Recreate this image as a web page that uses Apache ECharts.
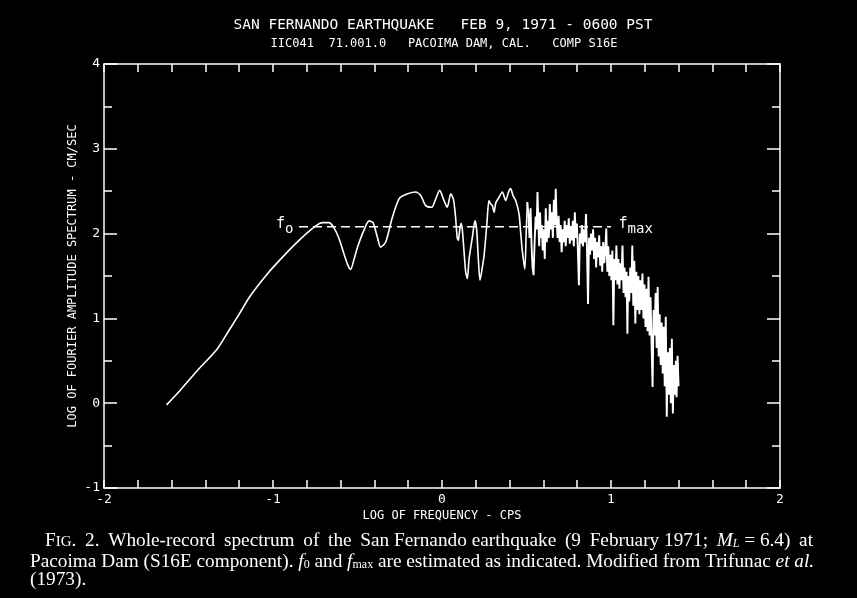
<!DOCTYPE html>
<html>
<head>
<meta charset="utf-8">
<script src="https://cdn.jsdelivr.net/npm/echarts@6/dist/echarts.min.js"></script>
<style>html,body{margin:0;padding:0;background:#000;}#c{width:857px;height:598px;}</style>
</head>
<body>
<div id="c"></div>
<script>
// ---- Data (log10 frequency in cps, log10 Fourier amplitude in cm/sec) ----
var lowFreqLog = [-1.63,-1.55,-1.45,-1.33,-1.26,-1.20,-1.14,-1.04,-0.945,-0.846,-0.747,-0.708,-0.669,-0.64,-0.609,-0.58,-0.555,-0.54,-0.52,-0.50,-0.46,-0.432,-0.408,-0.383,-0.363,-0.333,-0.294,-0.254,-0.215,-0.156,-0.126,-0.096,-0.061,-0.037,-0.014,0.012,0.031,0.052,0.068,0.080,0.090,0.097,0.105,0.113,0.120,0.130,0.140,0.150,0.160,0.180,0.195,0.205,0.215,0.225,0.240,0.250,0.265,0.278,0.288,0.298,0.308,0.318,0.335,0.357,0.377,0.395,0.406,0.420,0.436,0.456,0.466,0.475,0.490,0.498,0.505];
var lowAmpLog = [-0.02,0.15,0.38,0.64,0.86,1.05,1.25,1.51,1.72,1.92,2.09,2.13,2.13,2.07,1.94,1.76,1.62,1.58,1.70,1.84,2.05,2.15,2.13,1.96,1.84,1.90,2.19,2.41,2.46,2.49,2.45,2.33,2.31,2.41,2.51,2.39,2.31,2.47,2.40,2.20,1.95,1.92,2.05,2.12,2.05,1.80,1.55,1.47,1.70,1.96,2.15,2.05,1.70,1.45,1.62,1.76,2.10,2.39,2.35,2.33,2.25,2.36,2.42,2.49,2.39,2.50,2.53,2.45,2.39,2.23,2.00,1.80,1.58,2.00,2.37];

var highFreqLog = [0.505,0.512,0.518,0.524,0.530,0.536,0.542,0.548,0.554,0.560,0.565,0.570,0.575,0.580,0.585,0.590,0.596,0.602,0.608,0.614,0.620,0.626,0.632,0.638,0.644,0.650,0.656,0.662,0.668,0.673,0.678,0.684,0.690,0.696,0.702,0.708,0.714,0.720,0.726,0.732,0.738,0.744,0.750,0.756,0.762,0.768,0.774,0.780,0.786,0.792,0.798,0.804,0.810,0.816,0.822,0.828,0.834,0.840,0.846,0.852,0.858,0.864,0.870,0.876,0.882,0.888,0.894,0.900,0.906,0.912,0.918,0.924,0.930,0.936,0.942,0.948,0.954,0.960,0.966,0.972,0.978,0.984,0.990,0.996,1.002,1.008,1.014,1.020,1.026,1.032,1.038,1.044,1.050,1.056,1.062,1.068,1.074,1.080,1.086,1.092,1.097,1.102,1.108,1.114,1.120,1.126,1.132,1.138,1.144,1.150,1.156,1.162,1.168,1.174,1.180,1.186,1.192,1.198,1.204,1.210,1.216,1.222,1.228,1.234,1.240,1.246,1.252,1.258,1.264,1.270,1.276,1.282,1.288,1.294,1.300,1.306,1.312,1.318,1.324,1.330,1.336,1.342,1.348,1.354,1.360,1.366,1.372,1.378,1.384,1.388,1.394,1.400];
var highAmpLog = [2.37,2.20,1.95,2.30,1.85,1.60,1.51,1.90,2.20,2.05,2.49,2.15,1.85,2.25,1.95,2.10,1.80,2.05,1.70,2.30,1.90,2.15,1.95,2.35,2.05,2.25,1.95,2.40,2.10,2.53,2.15,1.95,2.21,1.90,2.10,1.78,2.05,1.90,2.15,1.85,2.10,1.95,2.18,1.88,2.08,1.92,2.15,1.85,2.25,1.95,2.12,1.80,1.39,2.00,1.88,2.10,1.85,2.05,1.90,2.23,1.80,1.17,1.95,1.75,2.00,1.80,2.05,1.70,1.95,1.60,1.90,1.72,1.98,1.62,1.85,1.55,1.90,1.65,1.80,2.06,1.55,1.85,1.50,1.75,1.45,1.80,0.92,1.70,1.45,1.86,1.40,1.70,1.35,1.65,1.45,1.86,1.30,1.60,1.25,1.55,0.82,1.50,1.20,1.60,1.30,1.86,1.15,1.68,0.94,1.55,1.10,1.50,1.05,1.45,1.10,1.53,1.00,1.40,0.90,1.35,0.85,1.49,0.80,1.25,0.70,0.19,1.10,0.80,1.30,0.65,1.37,0.55,1.05,0.45,0.95,0.35,0.90,0.20,1.02,-0.16,0.60,0.10,0.65,0.00,0.76,-0.12,0.45,0.10,0.50,0.07,0.56,0.20];

// f0 and fmax estimate line
var estFreqLog = [-0.846, 1.0];
var estAmpLog = [2.08, 2.08];

var xTickMin = -2, xTickMax = 2;
var yTickMin = -1, yTickMax = 4;

function zip(a, b) { var r = []; for (var i = 0; i < Math.min(a.length, b.length); i++) r.push([a[i], b[i]]); return r; }

var W = '#ffffff';
var MONO = '"DejaVu Sans Mono", monospace';
var SERIF = '"Liberation Serif", "DejaVu Serif", serif';
var T = '\u2009';

function xAxisCfg(pos, showLabel) {
  return {
    type: 'value', position: pos, min: xTickMin, max: xTickMax, interval: 1,
    axisLine: { show: true, onZero: false, lineStyle: { color: W, width: 1.5 } },
    axisTick: { show: true, inside: true, length: 8, lineStyle: { color: W, width: 1.5 } },
    minorTick: { show: true, splitNumber: 5, length: 8, lineStyle: { color: W, width: 1.5 } },
    splitLine: { show: false }, minorSplitLine: { show: false },
    axisLabel: { show: showLabel, color: W, fontFamily: MONO, fontSize: 13, margin: 5 },
    name: showLabel ? 'LOG OF FREQUENCY - CPS' : '',
    nameLocation: 'middle', nameGap: 22, nameMoveOverlap: false,
    nameTextStyle: { color: W, fontFamily: MONO, fontSize: 12 }
  };
}
function yAxisCfg(pos, showLabel) {
  return {
    type: 'value', position: pos, min: yTickMin, max: yTickMax, interval: 1,
    axisLine: { show: true, onZero: false, lineStyle: { color: W, width: 1.5 } },
    axisTick: { show: true, inside: true, length: 13, lineStyle: { color: W, width: 1.5 } },
    minorTick: { show: true, splitNumber: 2, length: 8, lineStyle: { color: W, width: 1.5 } },
    splitLine: { show: false }, minorSplitLine: { show: false },
    axisLabel: { show: showLabel, color: W, fontFamily: MONO, fontSize: 13, margin: 4 },
    name: showLabel ? 'LOG OF FOURIER AMPLITUDE SPECTRUM - CM/SEC' : '',
    nameLocation: 'middle', nameGap: 25, nameRotate: 90, nameMoveOverlap: false,
    nameTextStyle: { color: W, fontFamily: MONO, fontSize: 12 }
  };
}

var captionRich = {
  n: { fill: W, fontFamily: SERIF, fontSize: 19.3, lineHeight: 21, verticalAlign: 'bottom' },
  sc: { fill: W, fontFamily: SERIF, fontSize: 15, lineHeight: 19, verticalAlign: 'bottom' },
  i: { fill: W, fontFamily: SERIF, fontSize: 19.3, fontStyle: 'italic', lineHeight: 21, verticalAlign: 'bottom' },
  sub: { fill: W, fontFamily: SERIF, fontSize: 12, fontStyle: 'italic', lineHeight: 14, verticalAlign: 'bottom' },
  subn: { fill: W, fontFamily: SERIF, fontSize: 12, lineHeight: 14, verticalAlign: 'bottom' }
};

var chart = echarts.init(document.getElementById('c'), null, { renderer: 'canvas' });
var option = {
  backgroundColor: '#000',
  animation: false,
  grid: { left: 104, right: 77, top: 64, bottom: 110, containLabel: false },
  xAxis: [xAxisCfg('bottom', true), xAxisCfg('top', false)],
  yAxis: [yAxisCfg('left', true), yAxisCfg('right', false)],
  series: [
    {
      type: 'line', xAxisIndex: 0, yAxisIndex: 0, data: zip(lowFreqLog, lowAmpLog),
      symbol: 'none', smooth: 0.25, lineStyle: { color: W, width: 1.6 }
    },
    {
      type: 'line', xAxisIndex: 0, yAxisIndex: 0, data: zip(highFreqLog, highAmpLog),
      symbol: 'none', smooth: false, lineStyle: { color: W, width: 1.9 }
    },
    {
      type: 'line', xAxisIndex: 0, yAxisIndex: 0,
      data: [
        { value: [estFreqLog[0], estAmpLog[0]], label: { show: true, position: 'left', distance: 5, formatter: '{f|f}{s|o}' } },
        { value: [estFreqLog[1], estAmpLog[1]], label: { show: true, position: 'right', distance: 7, formatter: '{f|f}{s|max}' } }
      ],
      symbol: 'circle', symbolSize: 1, showSymbol: true,
      itemStyle: { color: 'rgba(0,0,0,0)' },
      lineStyle: { color: W, width: 1.6, type: [9, 5] },
      label: {
        color: W,
        rich: {
          f: { color: W, fontFamily: MONO, fontSize: 15, lineHeight: 20, verticalAlign: 'top' },
          s: { color: W, fontFamily: MONO, fontSize: 14, lineHeight: 15, verticalAlign: 'bottom' }
        }
      }
    }
  ],
  graphic: [
    { type: 'text', x: 443, y: 25, style: { text: 'SAN FERNANDO EARTHQUAKE   FEB 9, 1971 - 0600 PST', fill: W, font: '14.5px ' + MONO, textAlign: 'center', textVerticalAlign: 'middle' } },
    { type: 'text', x: 444, y: 44, style: { text: 'IIC041  71.001.0   PACOIMA DAM, CAL.   COMP S16E', fill: W, font: '12px ' + MONO, textAlign: 'center', textVerticalAlign: 'middle' } },
    { type: 'text', x: 45, y: 529, style: {
        text: '{n|F}{sc|IG}{n|.' + T + ' 2.' + T + ' Whole-record' + T + ' spectrum' + T + ' of' + T + ' the' + T + ' San Fernando earthquake' + T + ' (9' + T + ' February 1971;' + T + ' }{i|M}{sub|L}{n| = 6.4)' + T + ' at}',
        fill: W, fontFamily: SERIF, fontSize: 19.3, rich: captionRich } },
    { type: 'text', x: 30, y: 550, style: {
        text: '{n|Pacoima Dam (S16E component). }{i|f}{subn|0}{n| and }{i|f}{subn|max}{n| are estimated as indicated. Modified from Trifunac }{i|et al.}',
        fill: W, fontFamily: SERIF, fontSize: 19.3, rich: captionRich } },
    { type: 'text', x: 30, y: 570, style: { text: '(1973).', fill: W, font: '19.3px ' + SERIF } }
  ]
};
chart.setOption(option);
</script>
</body>
</html>
